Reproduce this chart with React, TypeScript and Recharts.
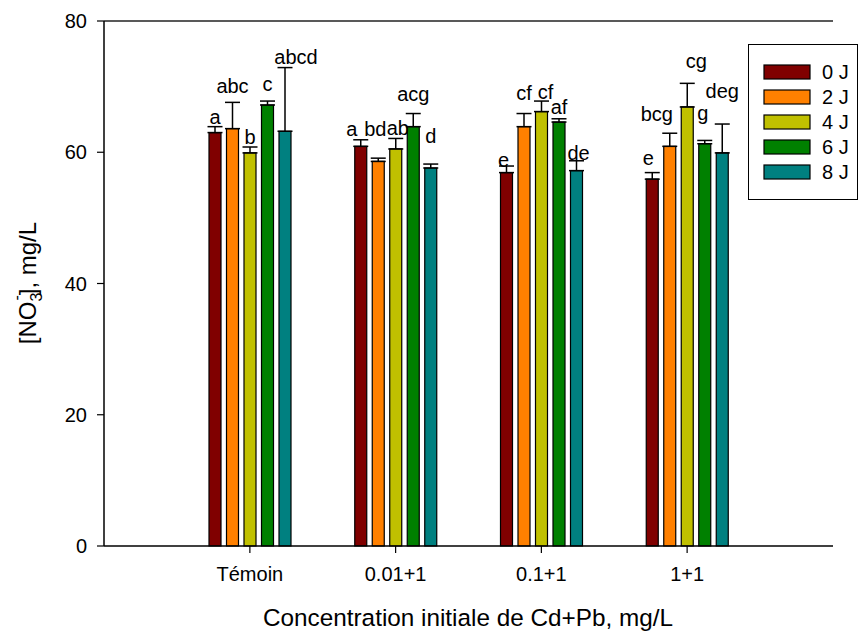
import React from "react"
import { BarChart, Bar, XAxis, YAxis, ErrorBar, LabelList, Legend, ReferenceLine, Label } from "recharts"

const groups = ["Témoin", "0.01+1", "0.1+1", "1+1"]
const days = ["0 J", "2 J", "4 J", "6 J", "8 J"]
const colors = ["#800000", "#ff8000", "#c0c000", "#008000", "#008080"]

// mean [NO3-] per day, one value per group
const mean0 = [63.0, 60.9, 56.9, 55.9]
const mean2 = [63.6, 58.6, 63.9, 60.9]
const mean4 = [59.9, 60.5, 66.2, 66.9]
const mean6 = [67.2, 63.9, 64.6, 61.3]
const mean8 = [63.2, 57.6, 57.2, 59.9]

// upper error (one-sided)
const err0 = [0.9, 1.0, 1.0, 1.0]
const err2 = [4.0, 0.5, 2.0, 2.0]
const err4 = [0.9, 1.6, 1.6, 3.6]
const err6 = [0.6, 2.0, 0.5, 0.5]
const err8 = [9.7, 0.6, 1.5, 4.4]

// significance letters
const let0 = ["a", "a", "e", "e"]
const let2 = ["abc", "bd", "cf", "bcg"]
const let4 = ["b", "ab", "cf", "cg"]
const let6 = ["c", "acg", "af", "g"]
const let8 = ["abcd", "d", "de", "deg"]

const yTicks = [0, 20, 40, 60, 80]

const means = [mean0, mean2, mean4, mean6, mean8]
const errs = [err0, err2, err4, err6, err8]
const letters = [let0, let2, let4, let6, let8]

// letter placement as in the original figure: [dx from bar centre, gap above error cap] in px
const letterNudge = [
  [[0, 3], [-9, 4], [-3, -1], [-4, 8]],
  [[0, 9], [-3, 22], [0, 14], [-13, 12]],
  [[0, 3], [2, 3], [4, 2], [9, 15]],
  [[0, 10], [0, 13], [0, 5], [-2, 20]],
  [[11, 4], [0, 21], [2, 1], [0, 26]],
]

const data = groups.map((g, i) => {
  const row: any = { group: g }
  days.forEach((_, s) => {
    row["v" + s] = means[s][i]
    row["e" + s] = errs[s][i]
    row["l" + s] = letters[s][i]
  })
  return row
})

const font = "'Liberation Sans', Arial, sans-serif"

const letterLabel = (s: number) => (p: any) => {
  const { x, y, width, height, value, index } = p
  const v = means[s][index]
  const e = errs[s][index]
  const k = height / v
  const top = y - e * k
  const [dx, gap] = letterNudge[s][index]
  return (
    <text x={x + width / 2 + dx} y={top - gap} textAnchor="middle" fontSize={20} fontFamily={font} fill="#000">
      {value}
    </text>
  )
}

const renderLegend = (props: any) => {
  const items = props.payload || []
  return (
    <div style={{ width: 108, height: 154, border: "1px solid #000", background: "#fff", boxSizing: "content-box" }}>
      <svg width={108} height={154}>
        {items.map((it: any, i: number) => (
          <g key={i}>
            <rect x={15} y={20 + i * 25} width={46} height={14} fill={it.color} stroke="#000" strokeWidth={1.2} />
            <text x={73} y={34 + i * 25} fontSize={20} fontFamily={font} fill="#000">
              {it.value}
            </text>
          </g>
        ))}
      </svg>
    </div>
  )
}

const yTitle = () => (
  <text transform="rotate(-90, 36, 283)" x={36} y={283} textAnchor="middle" fontSize={24} fontFamily={font} fill="#000">
    [NO<tspan fontSize={16} dy={6}>3</tspan>
    <tspan fontSize={16} dx={-8} dy={-20}>-</tspan>
    <tspan dy={14}>], mg/L</tspan>
  </text>
)

const xTitle = () => (
  <text x={468} y={626} textAnchor="middle" fontSize={24.3} fontFamily={font} fill="#000">
    Concentration initiale de Cd+Pb, mg/L
  </text>
)

export default function App() {
  return (
    <div style={{ position: "absolute", left: 0, top: 0, fontFamily: font }}>
      <BarChart
        width={859}
        height={633}
        data={data}
        margin={{ top: 21, right: 26, bottom: 27, left: 44 }}
        barSize={12}
        barGap={5.5}
      >
        <XAxis
          dataKey="group"
          height={60}
          padding={{ left: 73, right: 73 }}
          tickSize={7}
          tickMargin={14}
          axisLine={{ stroke: "#000", strokeWidth: 1.5 }}
          tickLine={{ stroke: "#000", strokeWidth: 1.2 }}
          tick={{ fontSize: 20, fill: "#000", fontFamily: font }}
          interval={0}
        >
          <Label content={xTitle} />
        </XAxis>
        <YAxis
          width={60}
          domain={[0, 80]}
          ticks={yTicks}
          tickSize={7}
          tickMargin={10}
          axisLine={{ stroke: "#000", strokeWidth: 1.5 }}
          tickLine={{ stroke: "#000", strokeWidth: 1.2 }}
          tick={{ fontSize: 20, fill: "#000", fontFamily: font }}
        >
          <Label content={yTitle} />
        </YAxis>
        <YAxis
          yAxisId="right"
          orientation="right"
          width={0}
          domain={[0, 80]}
          tick={false}
          tickLine={false}
          axisLine={{ stroke: "#222", strokeWidth: 1.5 }}
        />
        <ReferenceLine y={80} stroke="#222" strokeWidth={1.5} />
        {days.map((d, s) => (
          <Bar
            key={d}
            dataKey={"v" + s}
            name={d}
            fill={colors[s]}
            stroke="#000"
            strokeWidth={1.2}
            isAnimationActive={false}
          >
            <ErrorBar
              dataKey={(row: any) => [0, row["e" + s]]}
              width={7.5}
              stroke="#000"
              strokeWidth={1.5}
              direction="y"
              isAnimationActive={false}
            />
            <LabelList dataKey={"l" + s} content={letterLabel(s)} />
          </Bar>
        ))}
        <Legend
          layout="vertical"
          align="center"
          verticalAlign="middle"
          content={renderLegend}
          wrapperStyle={{ position: "absolute", left: 748, top: 44, width: 110, height: 156 }}
        />
      </BarChart>
    </div>
  )
}
